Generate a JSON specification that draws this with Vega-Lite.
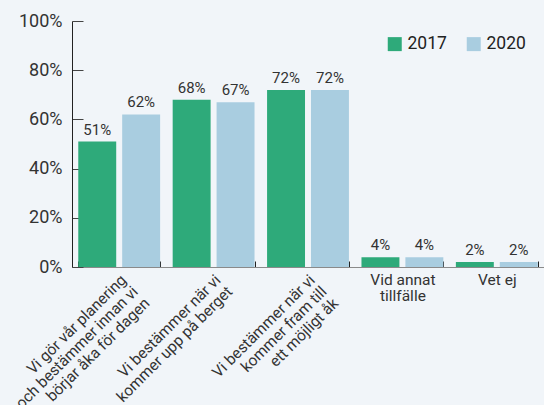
{
  "$schema": "https://vega.github.io/schema/vega-lite/v6.json",
  "width": 472,
  "height": 246,
  "autosize": "none",
  "padding": {"left": 72, "top": 21, "right": 0, "bottom": 138},
  "background": "#f1f5f9",
  "config": {"view": {"stroke": null}, "font": "Roboto"},
  "data": {
    "values": [
      {"kat": "Vi gör vår planering|och bestämmer innan vi|börjar åka för dagen", "year": "2017", "v": 0.51},
      {"kat": "Vi gör vår planering|och bestämmer innan vi|börjar åka för dagen", "year": "2020", "v": 0.62},
      {"kat": "Vi bestämmer när vi|kommer upp på berget", "year": "2017", "v": 0.68},
      {"kat": "Vi bestämmer när vi|kommer upp på berget", "year": "2020", "v": 0.67},
      {"kat": "Vi bestämmer när vi|kommer fram till|ett möjligt åk", "year": "2017", "v": 0.72},
      {"kat": "Vi bestämmer när vi|kommer fram till|ett möjligt åk", "year": "2020", "v": 0.72},
      {"kat": "Vid annat|tillfälle", "year": "2017", "v": 0.04},
      {"kat": "Vid annat|tillfälle", "year": "2020", "v": 0.04},
      {"kat": "Vet ej", "year": "2017", "v": 0.02},
      {"kat": "Vet ej", "year": "2020", "v": 0.02}
    ]
  },
  "encoding": {
    "x": {
      "field": "kat",
      "type": "nominal",
      "sort": null,
      "scale": {"paddingInner": 0.133, "paddingOuter": 0.0665},
      "axis": {
        "title": null,
        "domainColor": "#8a8a8a",
        "tickColor": "#222",
        "tickSize": -6,
        "tickBand": "extent",
        "labelExpr": "split(datum.label, '|')",
        "labelAngle": {"expr": "(datum.value == 'Vet ej' || datum.value == 'Vid annat|tillfälle') ? 0 : -45"},
        "labelAlign": {"condition": {"test": "datum.value == 'Vet ej' || datum.value == 'Vid annat|tillfälle'", "value": "center"}, "value": "right"},
        "labelOffset": {"condition": {"test": "datum.value == 'Vet ej' || datum.value == 'Vid annat|tillfälle'", "value": 0}, "value": -1},
        "labelBaseline": "top",
        "labelFontSize": 15.5,
        "labelColor": "#333",
        "labelPadding": 11,
        "labelLineHeight": 16.5,
        "labelLimit": 0,
        "labelOverlap": false,
        "labelBound": false
      }
    },
    "xOffset": {"field": "year", "type": "nominal", "scale": {"paddingInner": 0.136}},
    "y": {
      "field": "v",
      "type": "quantitative",
      "scale": {"domain": [0, 1]},
      "axis": {
        "title": null,
        "format": ".0%",
        "values": [0, 0.2, 0.4, 0.6, 0.8, 1],
        "grid": false,
        "domainColor": "#222",
        "tickColor": "#444",
        "tickSize": -11,
        "labelPadding": 21,
        "labelFontSize": 18,
        "labelColor": "#333"
      }
    }
  },
  "layer": [
    {
      "mark": {"type": "bar"},
      "encoding": {
        "color": {
          "field": "year",
          "type": "nominal",
          "scale": {"domain": ["2017", "2020"], "range": ["#2eaa7a", "#a9cde0"]},
          "legend": {
            "title": null,
            "orient": "none",
            "legendX": 314,
            "legendY": 14,
            "direction": "horizontal",
            "symbolType": "square",
            "symbolSize": 196,
            "symbolStrokeWidth": 0,
            "symbolOpacity": 1,
            "labelFontSize": 17.5,
            "labelColor": "#222",
            "columnPadding": 18,
            "labelOffset": 4
          }
        }
      }
    },
    {
      "mark": {"type": "text", "baseline": "bottom", "dy": -4, "fontSize": 15, "color": "#333"},
      "encoding": {"text": {"field": "v", "type": "quantitative", "format": ".0%"}}
    }
  ]
}
